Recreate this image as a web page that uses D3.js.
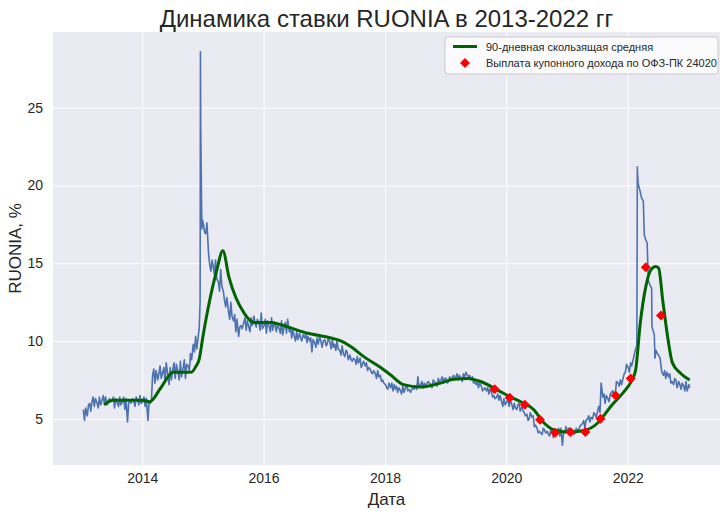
<!DOCTYPE html>
<html><head><meta charset="utf-8">
<script src="https://cdn.jsdelivr.net/npm/d3@7"></script>
<style>body{margin:0;background:#fff} text{font-family:"Liberation Sans",Arial,sans-serif;fill:#262626}</style>
</head><body><svg id="c" width="727" height="515"></svg>
<script>
const title = "Динамика ставки RUONIA в 2013-2022 гг";
const xLabel = "Дата";
const yLabel = "RUONIA, %";
const legendLabels = ["90-дневная скользящая средняя", "Выплата купонного дохода по ОФЗ-ПК 24020"];
const xTickYears = [2014, 2016, 2018, 2020, 2022];
const yTicks = [5, 10, 15, 20, 25];
const sampleDays = [4, 11, 18, 25];

// RUONIA, four readings per month (days 4, 11, 18, 25)
const ruoniaMonthly = [
["2013-02",[5.2,5.9,6.0,5.5]],["2013-03",[6.1,6.4,5.8,6.3]],["2013-04",[6.0,5.7,6.4,5.9]],["2013-05",[6.2,6.5,6.0,6.4]],
["2013-06",[5.9,6.2,6.3,6.1]],["2013-07",[6.2,6.4,5.7,6.3]],["2013-08",[6.0,5.8,6.4,5.9]],["2013-09",[6.1,6.4,5.6,6.3]],
["2013-10",[4.8,6.0,6.2,6.0]],["2013-11",[6.3,6.1,5.8,6.4]],["2013-12",[6.2,5.9,6.5,6.0]],
["2014-01",[6.1,6.4,5.8,6.3]],["2014-02",[4.9,6.1,6.0,6.2]],["2014-03",[7.8,8.2,7.3,8.1]],["2014-04",[7.5,7.9,8.4,7.6]],
["2014-05",[8.0,8.3,7.4,8.6]],["2014-06",[7.8,7.2,8.3,7.5]],["2014-07",[8.2,8.6,7.6,8.5]],["2014-08",[8.0,7.5,8.7,7.7]],
["2014-09",[8.3,8.8,7.6,8.5]],["2014-10",[8.4,8.1,9.2,8.8]],["2014-11",[9.8,9.3,10.3,9.5]],
["2015-01",[17.5,17.0,16.9,17.6]],["2015-02",[15.6,14.9,14.5,15.2]],["2015-03",[14.8,14.3,15.2,14.0]],["2015-04",[13.8,13.2,14.6,13.5]],
["2015-05",[13.2,12.6,12.2,12.8]],["2015-06",[11.9,11.4,12.5,11.6]],["2015-07",[11.3,11.7,10.6,11.4]],["2015-08",[10.3,10.9,11.0,10.8]],
["2015-09",[11.2,11.5,10.7,11.3]],["2015-10",[10.9,10.6,11.5,11.0]],["2015-11",[11.6,11.1,10.9,11.4]],["2015-12",[11.2,10.7,11.8,10.8]],
["2016-01",[11.0,11.4,10.5,11.3]],["2016-02",[10.9,10.6,11.5,10.7]],["2016-03",[11.2,11.0,10.6,11.1]],["2016-04",[10.8,10.5,11.3,10.4]],
["2016-05",[10.9,11.2,10.5,11.4]],["2016-06",[10.6,10.9,10.2,10.7]],["2016-07",[10.3,10.0,10.6,10.1]],["2016-08",[10.5,10.2,10.0,10.4]],
["2016-09",[10.2,10.5,9.9,10.3]],["2016-10",[10.0,10.2,9.3,10.1]],["2016-11",[9.9,9.6,10.2,9.8]],["2016-12",[10.3,10.0,9.6,10.0]],
["2017-01",[10.1,9.7,9.8,10.2]],["2017-02",[9.9,9.5,10.1,9.6]],["2017-03",[9.8,9.4,10.0,9.5]],["2017-04",[9.4,9.1,9.7,9.2]],
["2017-05",[9.0,9.4,9.3,8.8]],["2017-06",[9.1,8.8,8.7,8.9]],["2017-07",[8.8,8.5,9.0,8.6]],["2017-08",[8.9,8.3,8.5,8.7]],
["2017-09",[8.4,8.6,8.1,8.3]],["2017-10",[8.2,8.0,7.9,8.1]],["2017-11",[7.9,7.6,8.1,7.7]],["2017-12",[7.8,7.4,7.5,7.3]],
["2018-01",[7.2,7.0,6.9,7.3]],["2018-02",[7.0,7.3,6.8,7.2]],["2018-03",[6.9,7.1,6.7,7.0]],["2018-04",[6.8,6.6,7.1,6.7]],
["2018-05",[7.0,7.2,6.8,6.9]],["2018-06",[6.7,6.9,7.0,6.9]],["2018-07",[7.1,6.9,7.7,7.0]],["2018-08",[7.2,7.4,7.0,7.3]],
["2018-09",[7.1,7.3,7.4,7.3]],["2018-10",[7.2,7.0,7.5,7.4]],["2018-11",[7.3,7.1,7.6,7.4]],["2018-12",[7.5,7.7,7.3,7.6]],
["2019-01",[7.6,7.3,7.4,7.7]],["2019-02",[7.5,7.7,7.8,7.6]],["2019-03",[7.7,7.9,7.5,7.8]],["2019-04",[7.6,7.4,7.9,7.7]],
["2019-05",[8.0,7.8,7.7,7.8]],["2019-06",[7.5,7.7,7.3,7.4]],["2019-07",[7.2,7.4,7.0,7.3]],["2019-08",[7.1,6.8,6.9,7.0]],
["2019-09",[6.8,7.0,6.6,6.9]],["2019-10",[6.7,6.4,6.5,6.3]],["2019-11",[6.4,6.6,6.2,6.5]],["2019-12",[6.1,5.8,6.3,5.9]],
["2020-01",[6.1,6.3,5.8,6.2]],["2020-02",[5.9,5.6,6.0,5.7]],["2020-03",[5.6,5.9,6.0,5.5]],["2020-04",[5.8,5.5,5.4,5.2]],
["2020-05",[5.3,4.9,5.0,5.4]],["2020-06",[5.1,5.2,4.5,4.6]],["2020-07",[4.4,4.1,4.2,4.1]],["2020-08",[4.0,4.4,4.3,4.1]],
["2020-09",[4.2,4.0,3.9,4.3]],["2020-10",[4.1,3.8,4.3,4.0]],["2020-11",[4.2,4.4,3.9,4.4]],["2020-12",[3.3,4.2,4.1,4.5]],
["2021-01",[4.2,4.4,4.0,4.3]],["2021-02",[4.3,4.0,4.1,4.4]],["2021-03",[4.3,4.2,4.5,4.6]],["2021-04",[4.7,4.9,4.4,4.9]],
["2021-05",[5.0,5.2,4.8,5.1]],["2021-06",[5.0,5.4,5.3,5.1]],["2021-07",[5.5,5.8,5.4,7.3]],["2021-08",[6.4,6.6,6.0,6.5]],
["2021-09",[6.3,6.1,6.6,6.7]],["2021-10",[6.8,6.4,6.5,7.4]],["2021-11",[7.3,7.1,7.5,7.2]],["2021-12",[7.6,7.9,8.0,8.5]],
["2022-01",[8.3,8.0,8.6,8.4]],
["2022-08",[7.8,8.1,7.6,8.0]],["2022-09",[7.7,7.9,7.3,7.4]],["2022-10",[7.2,7.6,7.5,7.0]],["2022-11",[7.4,7.2,6.9,7.3]],
["2022-12",[7.1,6.8,7.4,6.8]]
];

// RUONIA, individual days around the jumps and at the ends
const ruoniaDaily = [
["2013-01-11",5.6],["2013-01-18",4.9],["2013-01-25",5.7],
["2014-12-05",10.4],["2014-12-10",10.9],["2014-12-15",12.5],["2014-12-16",19.0],["2014-12-17",28.6],
["2014-12-18",25.8],["2014-12-19",23.5],["2014-12-22",20.5],["2014-12-24",18.5],["2014-12-26",17.2],["2014-12-29",17.8],
["2022-02-05",8.9],["2022-02-15",9.4],["2022-02-25",9.7],["2022-02-28",21.2],["2022-03-01",20.8],["2022-03-05",20.1],
["2022-03-15",19.7],["2022-03-25",19.2],["2022-04-05",19.0],["2022-04-11",16.8],["2022-04-20",16.5],["2022-04-28",16.3],
["2022-05-05",13.9],["2022-05-15",13.6],["2022-05-25",13.4],["2022-05-27",10.9],["2022-06-05",10.6],["2022-06-10",10.4],
["2022-06-14",8.9],["2022-06-20",9.4],["2022-06-28",9.2],["2022-07-05",9.1],["2022-07-15",8.9],["2022-07-25",8.0],
["2023-01-05",7.2],["2023-01-09",7.0]
];

// 90-day moving average
const movingAvg = [
["2013-05-16",5.9],["2013-07-09",6.2],["2013-09-27",6.2],["2014-01-08",6.2],["2014-02-14",6.1],["2014-04-23",7.0],
["2014-07-05",8.0],["2014-10-23",8.0],["2014-11-21",8.4],["2014-12-09",8.8],["2015-01-01",10.3],["2015-03-24",14.5],
["2015-05-01",15.8],["2015-06-07",14.1],["2015-09-06",11.8],["2015-11-03",11.2],["2016-02-14",11.2],["2016-05-27",10.9],
["2016-09-24",10.5],["2017-02-10",10.2],["2017-04-13",10.0],["2017-06-15",9.6],["2017-08-26",9.0],["2017-12-06",8.3],
["2018-02-06",7.8],["2018-04-23",7.2],["2018-08-04",7.05],["2018-11-14",7.25],["2019-02-21",7.55],["2019-05-16",7.6],
["2019-07-31",7.4],["2019-11-10",6.85],["2020-01-26",6.4],["2020-03-28",6.1],["2020-06-13",5.6],["2020-08-14",4.75],
["2020-10-12",4.3],["2021-01-04",4.15],["2021-04-13",4.25],["2021-07-06",4.75],["2021-09-21",5.8],["2021-12-06",6.7],
["2022-01-19",7.35],["2022-02-17",8.1],["2022-03-18",11.2],["2022-04-20",13.5],["2022-05-19",14.55],["2022-06-18",14.8],
["2022-07-06",14.7],["2022-07-31",12.6],["2022-08-29",10.3],["2022-09-27",8.6],["2022-11-13",7.95],["2023-01-09",7.5]
];

// Coupon payments, OFZ-PK 24020
const couponDates = ["2019-10-23","2020-01-22","2020-04-22","2020-07-22","2020-10-21","2021-01-20",
                     "2021-04-21","2021-07-21","2021-10-20","2022-01-19","2022-04-20","2022-07-20"];
const couponValues = [6.9, 6.35, 5.9, 4.95, 4.1, 4.15, 4.15, 5.0, 6.5, 7.6, 14.75, 11.65];

// ---------- build ----------
const parse = d3.timeParse("%Y-%m-%d");
const pad2 = n => (n < 10 ? "0" : "") + n;
let ruonia = [];
ruoniaMonthly.forEach(([mo, vals]) => vals.forEach((v, i) => ruonia.push({date: parse(mo + "-" + pad2(sampleDays[i])), value: v})));
ruoniaDaily.forEach(([d, v]) => ruonia.push({date: parse(d), value: v}));
ruonia.sort((a, b) => a.date - b.date);
const ma = movingAvg.map(([d, v]) => ({date: parse(d), value: v}));
const coupons = couponDates.map((d, i) => ({date: parse(d), value: couponValues[i]}));

const W = 727, H = 515;
const m = {left: 53, right: 7, top: 32, bottom: 50};
const svg = d3.select("#c");

const xExt = d3.extent(ruonia, d => d.date);
const xPad = (xExt[1] - xExt[0]) * 0.05;
const x = d3.scaleTime().domain([new Date(+xExt[0] - xPad), new Date(+xExt[1] + xPad)]).range([m.left, W - m.right]);
const yExt = d3.extent(ruonia, d => d.value);
const yPad = (yExt[1] - yExt[0]) * 0.05;
const y = d3.scaleLinear().domain([yExt[0] - yPad, yExt[1] + yPad]).range([H - m.bottom, m.top]);

svg.append("rect").attr("x", m.left).attr("y", m.top).attr("width", W - m.left - m.right).attr("height", H - m.top - m.bottom).attr("fill", "#EAEAF2");

const xTicks = xTickYears.map(yr => new Date(yr, 0, 1));
const gx = svg.append("g").attr("transform", `translate(0,${H - m.bottom})`)
  .call(d3.axisBottom(x).tickValues(xTicks).tickFormat(d3.timeFormat("%Y")).tickSize(-(H - m.top - m.bottom)).tickPadding(8));
gx.select(".domain").remove();
gx.selectAll("line").attr("stroke", "#fff").attr("stroke-width", 1);
gx.selectAll("text").attr("font-size", 14).attr("fill", "#262626").attr("dy", "0.71em");

const gy = svg.append("g").attr("transform", `translate(${m.left},0)`)
  .call(d3.axisLeft(y).tickValues(yTicks).tickSize(-(W - m.left - m.right)).tickPadding(10));
gy.select(".domain").remove();
gy.selectAll("line").attr("stroke", "#fff").attr("stroke-width", 1);
gy.selectAll("text").attr("font-size", 14).attr("fill", "#262626");

const plot = svg.append("g");
plot.append("path").datum(ruonia)
  .attr("fill", "none").attr("stroke", "#4C72B0").attr("stroke-width", 1.6).attr("stroke-linejoin", "round")
  .attr("d", d3.line().x(d => x(d.date)).y(d => y(d.value)));
plot.append("path").datum(ma)
  .attr("fill", "none").attr("stroke", "#006400").attr("stroke-width", 3).attr("stroke-linejoin", "round")
  .attr("d", d3.line().curve(d3.curveMonotoneX).x(d => x(d.date)).y(d => y(d.value)));
const diamond = d3.symbol().type(d3.symbolSquare).size(50);
plot.selectAll(".cp").data(coupons).join("path")
  .attr("d", diamond).attr("fill", "red")
  .attr("transform", d => `translate(${x(d.date)},${y(d.value)}) rotate(45)`);

// title & labels
svg.append("text").attr("x", (m.left + W - m.right) / 2).attr("y", 27).attr("text-anchor", "middle").attr("font-size", 24).text(title);
svg.append("text").attr("x", (m.left + W - m.right) / 2).attr("y", 505).attr("text-anchor", "middle").attr("font-size", 17).text(xLabel);
svg.append("text").attr("transform", `translate(21,${(m.top + H - m.bottom) / 2}) rotate(-90)`).attr("text-anchor", "middle").attr("font-size", 17).text(yLabel);

// legend
const lg = svg.append("g").attr("transform", "translate(445,37)");
lg.append("rect").attr("width", 273).attr("height", 37).attr("rx", 3).attr("fill", "#fff").attr("fill-opacity", 0.8).attr("stroke", "#cccccc").attr("stroke-width", 1);
lg.append("line").attr("x1", 8).attr("x2", 32).attr("y1", 9.5).attr("y2", 9.5).attr("stroke", "#006400").attr("stroke-width", 3);
lg.append("path").attr("d", diamond).attr("fill", "red").attr("transform", "translate(20,26) rotate(45)");
lg.append("text").attr("x", 41).attr("y", 13.5).attr("font-size", 11).text(legendLabels[0]);
lg.append("text").attr("x", 41).attr("y", 30).attr("font-size", 11).text(legendLabels[1]);
</script></body></html>
